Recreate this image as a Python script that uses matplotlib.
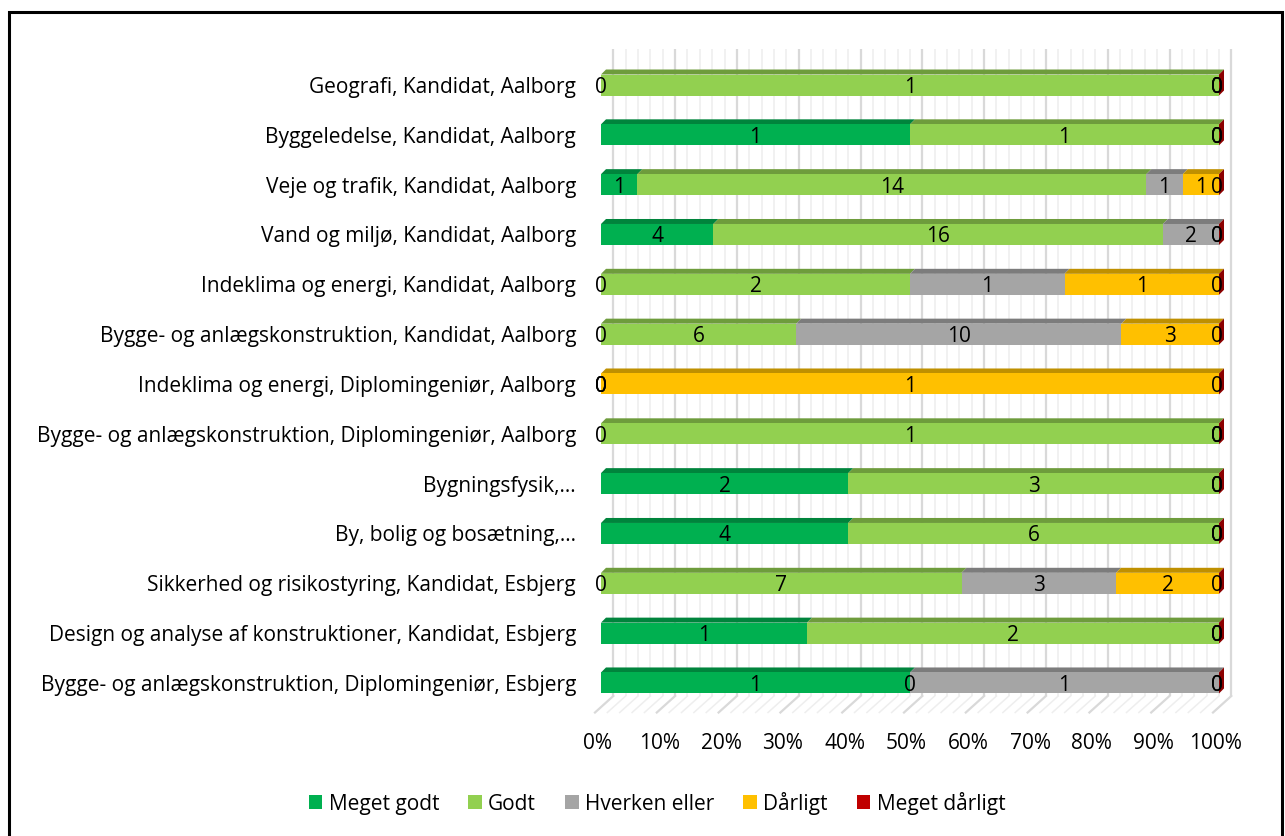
import matplotlib
matplotlib.use("Agg")
import matplotlib.pyplot as plt
from matplotlib.patches import Polygon, Rectangle, Patch
import numpy as np

plt.rcParams['font.family'] = ['Open Sans', 'DejaVu Sans']

categories = [
    "Geografi, Kandidat, Aalborg",
    "Byggeledelse, Kandidat, Aalborg",
    "Veje og trafik, Kandidat, Aalborg",
    "Vand og miljø, Kandidat, Aalborg",
    "Indeklima og energi, Kandidat, Aalborg",
    "Bygge- og anlægskonstruktion, Kandidat, Aalborg",
    "Indeklima og energi, Diplomingeniør, Aalborg",
    "Bygge- og anlægskonstruktion, Diplomingeniør, Aalborg",
    "Bygningsfysik,…",
    "By, bolig og bosætning,…",
    "Sikkerhed og risikostyring, Kandidat, Esbjerg",
    "Design og analyse af konstruktioner, Kandidat, Esbjerg",
    "Bygge- og anlægskonstruktion, Diplomingeniør, Esbjerg",
]
series_names = ["Meget godt", "Godt", "Hverken eller", "Dårligt", "Meget dårligt"]
meget_godt   = [0, 1, 1, 4, 0, 0, 0, 0, 2, 4, 0, 1, 1]
godt         = [1, 1, 14, 16, 2, 6, 0, 1, 3, 6, 7, 2, 0]
hverken      = [0, 0, 1, 2, 1, 10, 0, 0, 0, 0, 3, 0, 1]
daarligt     = [0, 0, 1, 0, 1, 3, 1, 0, 0, 0, 2, 0, 0]
meget_daarligt = [0, 0, 0, 0, 0, 0, 0, 0, 0, 0, 0, 0, 0]
tick_labels = ["0%", "10%", "20%", "30%", "40%", "50%", "60%", "70%", "80%", "90%", "100%"]

front_colors = ["#00B050", "#92D050", "#A5A5A5", "#FFC000", "#C00000"]
top_colors   = ["#00843C", "#6E9C3C", "#7C7C7C", "#BF9000", "#900000"]

FS = 15
W, H = 1285, 837
fig = plt.figure(figsize=(W/100, H/100), dpi=100)

# axes in pixel geometry
ax_l, ax_r, ax_t, ax_b = 580, 1260, 30, 760
ax = fig.add_axes([ax_l/W, 1-ax_b/H, (ax_r-ax_l)/W, (ax_b-ax_t)/H])
x0px, pxpp = 601.0, 6.18        # front 0% pixel, px per percent
y0px, pxrow = 86.0, 49.83       # row 0 centre pixel, px per row
ax.set_xlim((ax_l-x0px)/pxpp, (ax_r-x0px)/pxpp)
ax.set_ylim((ax_b-y0px)/pxrow, (ax_t-y0px)/pxrow)
ax.axis('off')

def dxp(px):  # pixel -> percent units
    return px/pxpp
def dyr(px):  # pixel -> row units
    return px/pxrow

# back wall gridlines and floor
wall_dx, wall_top, wall_bot = 12.3, 50, 697
floor_dx, floor_dy = -18.3, 16.5
for p in range(0, 101, 2):
    major = (p % 10 == 0)
    col = "#d9d9d9" if major else "#eeeeee"
    lw = 1.6 if major else 1.1
    xw = p + dxp(wall_dx)
    ax.plot([xw, xw], [(wall_top-y0px)/pxrow, (wall_bot-y0px)/pxrow], color=col, lw=lw, zorder=1, solid_capstyle='butt')
    ax.plot([xw, xw + dxp(floor_dx)], [(wall_bot-y0px)/pxrow, (wall_bot-y0px)/pxrow + dyr(floor_dy)],
            color=col, lw=lw, zorder=1)

# bars
data = np.array([meget_godt, godt, hverken, daarligt, meget_daarligt], dtype=float)
totals = data.sum(axis=0)
half_h = dyr(10.5)
bdx, bdy = dxp(5), dyr(5)
for i in range(len(categories)):
    left = 0.0
    yc = i
    top = yc - half_h
    bot = yc + half_h
    segs = []
    for s in range(5):
        w = data[s, i] / totals[i] * 100
        segs.append((left, left + w))
        left += w
    for s in range(5):
        a, b = segs[s]
        if b - a > 0:
            ax.add_patch(Polygon([(a, top), (b, top), (b+bdx, top-bdy), (a+bdx, top-bdy)],
                                 closed=True, facecolor=top_colors[s], edgecolor='none', zorder=3))
            ax.add_patch(Rectangle((a, top), b-a, bot-top, facecolor=front_colors[s], edgecolor='none', zorder=4))
    # right side face (last series, zero width at 100%)
    end = segs[-1][1]
    ax.add_patch(Polygon([(end, top), (end+bdx, top-bdy), (end+bdx, bot-bdy), (end, bot)],
                         closed=True, facecolor="#8B0000", edgecolor='none', zorder=5))
    for s in range(5):
        a, b = segs[s]
        xm = (a+b)/2
        if b - a == 0 and xm > 99:
            xm -= dxp(2)
        ax.text(xm, yc + dyr(1.5), f"{int(data[s, i])}", ha='center', va='center',
                fontsize=FS, color='black', zorder=6)
    ax.text((ax_l - 4 - x0px)/pxpp, yc + dyr(1.5), categories[i], ha='right', va='center',
            fontsize=FS, color='black', clip_on=False)

# x tick labels
for k, lab in enumerate(tick_labels):
    p = k * 10
    ax.text(p + dxp(-3.5), (744-y0px)/pxrow, lab, ha='center', va='center', fontsize=FS, color='black', clip_on=False)

handles = [Patch(facecolor=c, edgecolor='none') for c in front_colors]
fig.legend(handles, series_names, loc='center', bbox_to_anchor=(657/W, 1-804/H), ncol=5, frameon=False,
           handlelength=0.65, handleheight=0.65, handletextpad=0.3, columnspacing=1.4, fontsize=FS)

# outer border
fig.add_artist(Rectangle((9/W, -0.05), (1282-9)/W, 1-13/H+0.05, transform=fig.transFigure,
                         facecolor='none', edgecolor='black', lw=2.2))

fig.savefig("out.png", dpi=100)
